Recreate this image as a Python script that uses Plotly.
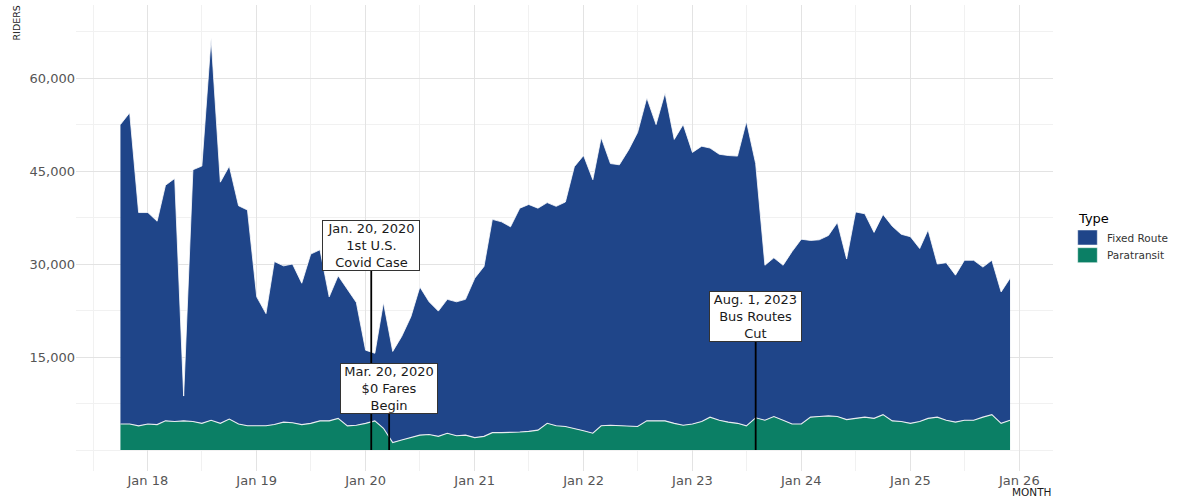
import plotly.graph_objects as go
import pandas as pd

# ---------------- data ----------------
months = pd.date_range("2017-10-01", "2025-12-01", freq="MS")

paratransit = [
    4200, 4200, 3900, 4200, 4100, 4700, 4600, 4700, 4600, 4300,
    4800, 4300, 5000, 4200, 3900, 3900, 3900, 4100, 4500, 4400,
    4100, 4300, 4700, 4700, 5100, 3900, 4000, 4300, 4700, 3500,
    1200, 1600, 2000, 2400, 2500, 2200, 2700, 2300, 2400, 2000,
    2200, 2800, 2800, 2800, 2900, 3000, 3200, 4300, 3900, 3800,
    3500, 3100, 2700, 3900, 4000, 3900, 3800, 3800, 4700, 4700,
    4700, 4300, 4000, 4200, 4600, 5300, 4800, 4500, 4300, 3900,
    5200, 4800, 5400, 4800, 4200, 4200, 5300, 5400, 5500, 5400,
    4900, 5100, 5300, 5100, 5700, 4700, 4600, 4300, 4600, 5100,
    5300, 4800, 4500, 4800, 4800, 5300, 5700, 4300, 4800,
]

fixed_route = [
    48300, 50200, 34400, 34100, 32800, 38000, 39200, 4000, 40600, 41500,
    61600, 38900, 40800, 35200, 34800, 20800, 18100, 26300, 25200, 25600,
    22800, 27300, 27600, 20000, 23000, 22100, 19800, 11800, 10900, 20300,
    14700, 16700, 19500, 23900, 21400, 20200, 21600, 21600, 21900, 25700,
    27400, 34400, 34000, 33200, 36100, 36600, 35800, 35600, 35400, 36200,
    42200, 44400, 40900, 46500, 42200, 42100, 44600, 47400, 52100, 47800,
    52900, 45800, 48500, 43800, 44400, 43400, 42900, 43000, 43100, 49100,
    41000, 25000, 25600, 25000, 27800, 29800, 28500, 28500, 29100, 31300,
    25900, 33300, 32800, 30000, 32300, 31400, 30200, 30100, 27900, 30400,
    24700, 25400, 23700, 25800, 25800, 24200, 24900, 21200, 22900,
]

series_names = ["Fixed Route", "Paratransit"]
series_colors = ["#1f4589", "#0b7f65"]

event_dates = ["2020-01-20", "2020-03-20", "2023-08-01"]
event_labels = ["Jan. 20, 2020<br>1st U.S.<br>Covid Case",
                "Mar. 20, 2020<br>$0 Fares<br>Begin",
                "Aug. 1, 2023<br>Bus Routes<br>Cut"]
event_label_y = [33000, 10000, 21500]
event_box_w = [96, 96, 91]

y_major = [15000, 30000, 45000, 60000]
y_minor = [0, 7500, 22500, 37500, 52500, 67500]
x_major = [f"{y}-01-01" for y in range(2018, 2027)]
x_minor = [f"{y}-07-01" for y in range(2017, 2026)]

# ---------------- figure ----------------
FONT = "DejaVu Sans, Liberation Sans, Arial, sans-serif"
fig = go.Figure()

fig.add_trace(go.Scatter(
    x=months, y=paratransit, name=series_names[1], stackgroup="one",
    mode="lines", line=dict(color="#e8ecef", width=1.1),
    fillcolor=series_colors[1], showlegend=False, hoverinfo="x+y+name"))
fig.add_trace(go.Scatter(
    x=months, y=fixed_route, name=series_names[0], stackgroup="one",
    mode="lines", line=dict(color="#ffffff", width=0.8),
    fillcolor=series_colors[0], showlegend=False, hoverinfo="x+y+name"))

# event lines + labels
for d, lab, ly, bw in zip(event_dates, event_labels, event_label_y,
                          event_box_w):
    fig.add_shape(type="line", xref="x", yref="y", x0=d, x1=d, y0=0, y1=ly,
                  line=dict(color="#000000", width=1.8), layer="above")
    fig.add_annotation(x=d, y=ly, xref="x", yref="y", text=lab,
                       showarrow=False, xanchor="center", yanchor="middle",
                       font=dict(family=FONT, size=13, color="#1a1a1a"),
                       bgcolor="#ffffff", bordercolor="#333333",
                       borderwidth=1, borderpad=0, width=bw,
                       align="center")

# panel geometry in pixels
W, H = 1178, 499
L, R, T, B = 76, 1053, 5, 471
pw, ph = R - L, B - T


def px_x(x):
    return (x - L) / pw


def px_y(y):
    return (B - y) / ph


# manual legend
fig.add_annotation(xref="paper", yref="paper", x=px_x(1076), y=px_y(218),
                   text="Type", showarrow=False, xanchor="left",
                   yanchor="middle",
                   font=dict(family=FONT, size=13, color="#000000"))
key_tops = [230, 247.7]
for name, col, top in zip(series_names, series_colors, key_tops):
    fig.add_shape(type="rect", xref="paper", yref="paper",
                  x0=px_x(1077.7), x1=px_x(1097.3),
                  y0=px_y(top + 15), y1=px_y(top),
                  fillcolor=col, line=dict(color="#ffffff", width=0.5))
    fig.add_annotation(xref="paper", yref="paper", x=px_x(1105),
                       y=px_y(top + 7.5), text=name, showarrow=False,
                       xanchor="left", yanchor="middle",
                       font=dict(family=FONT, size=10.5, color="#333333"))

# axis titles
fig.add_annotation(xref="paper", yref="paper", x=px_x(16), y=px_y(4),
                   text="RIDERS", showarrow=False, textangle=-90,
                   xanchor="center", yanchor="top",
                   font=dict(family=FONT, size=9.5, color="#1a1a1a"))
fig.add_annotation(xref="paper", yref="paper", x=1.0, y=px_y(499),
                   text="MONTH", showarrow=False, xanchor="right",
                   yanchor="bottom", borderpad=0,
                   font=dict(family=FONT, size=10.5, color="#1a1a1a"))

fig.update_layout(
    width=W, height=H,
    margin=dict(l=L, r=W - R, t=T, b=H - B),
    paper_bgcolor="#ffffff", plot_bgcolor="#ffffff",
    showlegend=False,
    font=dict(family=FONT),
    xaxis=dict(
        type="date", range=["2017-05-05", "2026-04-24"],
        tickmode="array", tickvals=x_major,
        tickformat="%b %y",
        showgrid=True, gridcolor="#e3e3e3", gridwidth=1,
        minor=dict(tickmode="array", tickvals=x_minor, showgrid=True,
                   gridcolor="#f1f1f1", gridwidth=0.8),
        zeroline=False, showline=False, ticks="",
        tickfont=dict(family=FONT, size=13, color="#555555"),
        automargin=False,
    ),
    yaxis=dict(
        range=[-3387, 71774],
        tickmode="array", tickvals=y_major,
        tickformat=",d",
        showgrid=True, gridcolor="#e3e3e3", gridwidth=1,
        minor=dict(tickmode="array", tickvals=y_minor, showgrid=True,
                   gridcolor="#f1f1f1", gridwidth=0.8),
        zeroline=False, showline=False, ticks="",
        tickfont=dict(family=FONT, size=13, color="#555555"),
        automargin=False,
    ),
)

fig.write_html(
    "out.html",
    config={"displayModeBar": False},
    post_script="document.body.style.margin='0px';"
                "document.body.style.padding='0px';"
                "document.body.style.overflow='hidden';",
)
